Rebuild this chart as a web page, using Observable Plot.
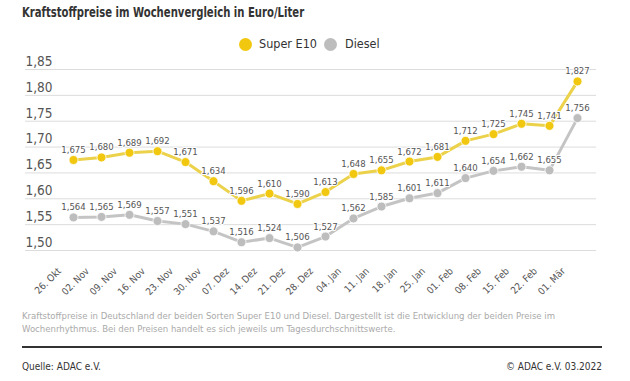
<!DOCTYPE html>
<html><head><meta charset="utf-8">
<script src="https://cdn.jsdelivr.net/npm/d3@7"></script>
<script src="https://cdn.jsdelivr.net/npm/@observablehq/plot@0.6"></script>
<style>
body{margin:0;width:630px;height:381px;background:#fff;position:relative;overflow:hidden;font-family:"DejaVu Sans Condensed","DejaVu Sans",sans-serif;font-stretch:condensed;}
#title{position:absolute;left:22px;top:4px;font-weight:bold;font-size:13.5px;color:#333;white-space:nowrap;transform:scaleX(0.83);transform-origin:left top;}
.sw{position:absolute;width:13px;height:13px;border-radius:50%;top:38px;}
.lt{position:absolute;top:36px;font-size:12.5px;color:#333;white-space:nowrap;}
#chart{position:absolute;left:0;top:50px;}
#note{position:absolute;left:22px;top:309px;font-size:9.5px;line-height:13px;color:#aaa;white-space:nowrap;}
#hr{position:absolute;left:22px;top:346px;width:580px;height:2px;background:#333;}
#src{position:absolute;left:22px;top:361px;font-size:10px;color:#333;}
#copy{position:absolute;right:28px;top:361px;font-size:10px;color:#333;}
</style></head>
<body>
<div id="title">Kraftstoffpreise im Wochenvergleich in Euro/Liter</div>
<div id="legend"></div>
<div id="chart"></div>
<div id="note">Kraftstoffpreise in Deutschland der beiden Sorten Super E10 und Diesel. Dargestellt ist die Entwicklung der beiden Preise im<br>Wochenrhythmus. Bei den Preisen handelt es sich jeweils um Tagesdurchschnittswerte.</div>
<div id="hr"></div>
<div id="src">Quelle: ADAC e.V.</div>
<div id="copy">© ADAC e.V. 03.2022</div>
<script>
const dates = ["26. Okt","02. Nov","09. Nov","16. Nov","23. Nov","30. Nov","07. Dez","14. Dez","21. Dez","28. Dez","04. Jan","11. Jan","18. Jan","25. Jan","01. Feb","08. Feb","15. Feb","22. Feb","01. Mär"];
const superE10 = [1.675,1.680,1.689,1.692,1.671,1.634,1.596,1.610,1.590,1.613,1.648,1.655,1.672,1.681,1.712,1.725,1.745,1.741,1.827];
const diesel = [1.564,1.565,1.569,1.557,1.551,1.537,1.516,1.524,1.506,1.527,1.562,1.585,1.601,1.611,1.640,1.654,1.662,1.655,1.756];
const yTicks = [1.50,1.55,1.60,1.65,1.70,1.75,1.80,1.85];
const seriesNames = ["Super E10","Diesel"];
const lineColors = ["#ebd24a","#c4c4c4"];
const dotColors = ["#f1c80f","#bdbdbd"];

const rows = [];
dates.forEach((d,i)=>{
  rows.push({date:d, value:superE10[i], series:seriesNames[0]});
  rows.push({date:d, value:diesel[i], series:seriesNames[1]});
});
const fmt3 = v => v.toFixed(3).replace(".",",");
const fmt2 = v => v.toFixed(2).replace(".",",");

// legend
const swX = [239, 324], txX = [259, 345];
seriesNames.forEach((s,i)=>{
  const c = document.createElement("div"); c.className="sw";
  c.style.left = swX[i]+"px"; c.style.background = dotColors[i];
  document.body.appendChild(c);
  const t = document.createElement("div"); t.className="lt";
  t.style.left = txX[i]+"px"; t.textContent = s;
  document.body.appendChild(t);
});

const plot = Plot.plot({
  width: 630, height: 260,
  marginTop: 19, marginBottom: 60, marginLeft: 68, marginRight: 48,
  style: {fontFamily: '"DejaVu Sans Condensed","DejaVu Sans",sans-serif', background: "transparent"},
  x: {type: "point", domain: dates, padding: 0},
  y: {domain: [1.50, 1.85]},
  color: {domain: seriesNames, range: lineColors},
  marks: [
    Plot.ruleY(yTicks, {stroke: "#dcdcdc", strokeWidth: 1, insetLeft: -43, insetRight: -14}),
    Plot.axisY({ticks: yTicks, tickFormat: fmt2, tickSize: 0, tickPadding: 0, textAnchor: "start", dx: -43, dy: -8, fontSize: 13.5, fill: "#555", label: null}),
    Plot.axisX({tickSize: 0, tickPadding: 14, tickRotate: -45, fontSize: 9.8, fill: "#555", label: null, dx: -14, dy: 5}),
    Plot.line(rows, {x: "date", y: "value", z: "series", stroke: "series", strokeWidth: 3}),
    Plot.dot(rows, {x: "date", y: "value", fill: d => d.series === seriesNames[0] ? dotColors[0] : dotColors[1], r: 4.5, stroke: "white", strokeWidth: 0.8}),
    Plot.text(rows, {x: "date", y: "value", text: d => fmt3(d.value), dy: -10, fontSize: 9.5, fill: "#555", stroke: "white", strokeWidth: 2})
  ]
});
document.getElementById("chart").appendChild(plot);
</script>
</body></html>
